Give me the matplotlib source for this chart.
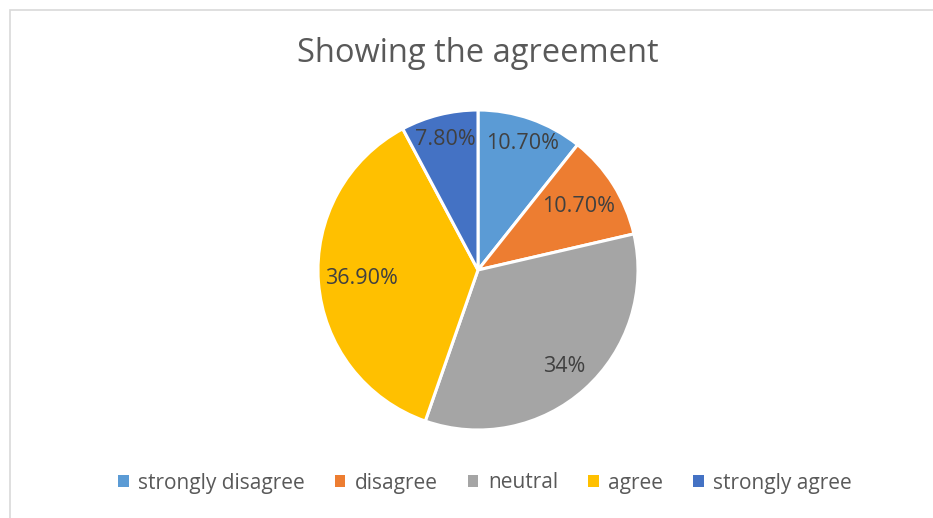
import numpy as np
import matplotlib.pyplot as plt
from matplotlib.patches import Rectangle

categories = ["strongly disagree", "disagree", "neutral", "agree", "strongly agree"]
values = [10.7, 10.7, 34.0, 36.9, 7.8]
value_labels = ["10.70%", "10.70%", "34%", "36.90%", "7.80%"]
colors = ["#5B9BD5", "#ED7D31", "#A5A5A5", "#FFC000", "#4472C4"]
label_radius = [0.84, 0.74, 0.81, 0.73, 0.84]

plt.rcParams["font.family"] = ["Open Sans", "DejaVu Sans"]

W, H = 933, 518
fig = plt.figure(figsize=(W / 100, H / 100), dpi=100)
fig.patch.set_facecolor("white")

# chart-area border
fig.add_artist(Rectangle((10 / W, -0.1), 1.2, (H - 10) / H + 0.1,
                         transform=fig.transFigure, fill=False,
                         edgecolor="#D9D9D9", linewidth=1.2))

# pie axes: center (478, 270), radius 160 px
cx, cy, r = 478, 270, 160
ax = fig.add_axes([(cx - r) / W, (H - cy - r) / H, 2 * r / W, 2 * r / H])
wedges, _ = ax.pie(values, colors=colors, startangle=90, counterclock=False,
                   radius=1.0,
                   wedgeprops=dict(edgecolor="white", linewidth=2.2))
ax.set_xlim(-1, 1)
ax.set_ylim(-1, 1)
ax.set_aspect("equal")
ax.axis("off")

for w, lab, lr in zip(wedges, value_labels, label_radius):
    ang = np.deg2rad((w.theta1 + w.theta2) / 2)
    ax.text(lr * np.cos(ang), lr * np.sin(ang), lab, ha="center", va="center",
            fontsize=15.5, color="#404040")

fig.text(478 / W, 1 - 53 / H, "Showing the agreement", ha="center", va="center",
         fontsize=23.5, color="#595959")

handles = [Rectangle((0, 0), 1, 1, facecolor=c, edgecolor="none") for c in colors]
fig.legend(handles, categories, loc="center", bbox_to_anchor=(485 / W, 1 - 483 / H),
           ncol=5, frameon=False, fontsize=15, labelcolor="#595959",
           handlelength=0.5, handleheight=0.5, handletextpad=0.45,
           columnspacing=1.45)

fig.savefig("out.png", dpi=100, facecolor="white")
